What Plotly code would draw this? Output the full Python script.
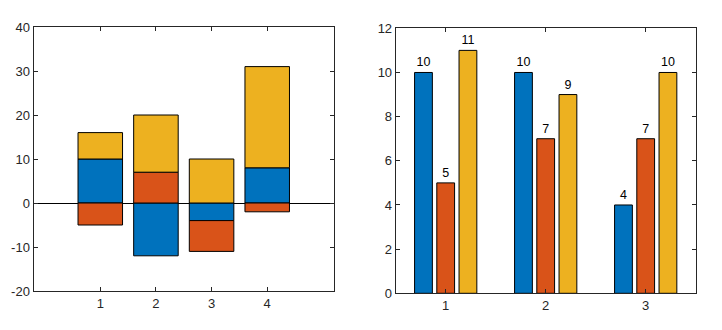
import plotly.graph_objects as go
from plotly.subplots import make_subplots

# Left: stacked bars with negative data
left_x = [1, 2, 3, 4]
left_s1 = [10, -12, -4, 8]
left_s2 = [-5, 7, -7, -2]
left_s3 = [6, 13, 10, 23]
left_yticks = [-20, -10, 0, 10, 20, 30, 40]
left_yticklabels = ["-20", "-10", "0", "10", "20", "30", "40"]

# Right: grouped bars with labels
right_x = [1, 2, 3]
right_s1 = [10, 10, 4]
right_s2 = [5, 7, 7]
right_s3 = [11, 9, 10]
right_yticks = [0, 2, 4, 6, 8, 10, 12]

colors = ["#0072BD", "#D95319", "#EDB120"]
FONT = "Liberation Sans, Arial, sans-serif"

fig = make_subplots(rows=1, cols=2)

for vals, c in zip([left_s1, left_s2, left_s3], colors):
    fig.add_trace(go.Bar(x=left_x, y=vals, width=0.8, offsetgroup="L",
                         marker=dict(color=c, line=dict(color="black", width=1)),
                         showlegend=False), row=1, col=1)

for i, (vals, c) in enumerate(zip([right_s1, right_s2, right_s3], colors)):
    fig.add_trace(go.Bar(x=right_x, y=vals, offsetgroup=str(i),
                         text=[str(v) for v in vals], textposition="outside",
                         textfont=dict(color="black", size=12.5, family=FONT),
                         cliponaxis=False,
                         marker=dict(color=c, line=dict(color="black", width=1)),
                         showlegend=False), row=1, col=2)

axis_common = dict(showline=True, linecolor="#262626", linewidth=1, mirror="ticks",
                   ticks="inside", ticklen=4, tickcolor="#262626", showgrid=False,
                   automargin=False,
                   tickfont=dict(size=13, color="#262626", family=FONT))

fig.update_layout(
    width=722, height=330, margin=dict(l=0, r=0, t=0, b=0, pad=0),
    plot_bgcolor="white", paper_bgcolor="white",
    barmode="relative", bargap=0.333, bargroupgap=0.2,
    xaxis=dict(domain=[33.5/722, 334/722], range=[-0.2, 5.2], tickvals=left_x,
               zeroline=False, **axis_common),
    yaxis=dict(domain=[1-291/330, 1-27/330], range=[-20, 40],
               tickvals=left_yticks, ticktext=left_yticklabels,
               zeroline=True, zerolinecolor="black", zerolinewidth=1, **axis_common),
    xaxis2=dict(domain=[395.7/722, 695.7/722], range=[0.5, 3.5], tickvals=right_x,
                zeroline=False, **axis_common),
    yaxis2=dict(domain=[1-293.3/330, 1-28.3/330], range=[0, 12], tickvals=right_yticks,
                zeroline=False, **axis_common),
)

fig.write_html("out.html")
